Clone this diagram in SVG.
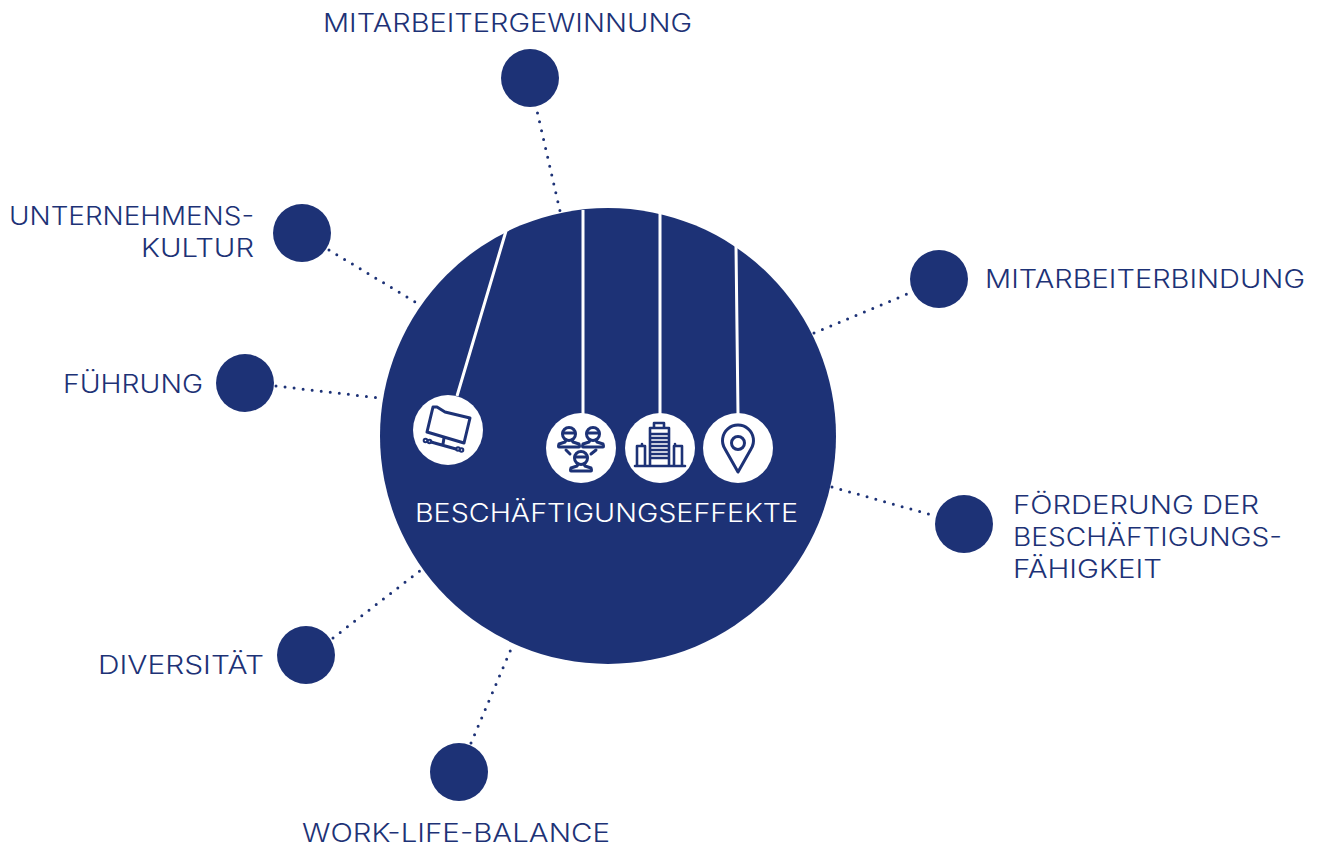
<svg xmlns="http://www.w3.org/2000/svg" width="1317" height="843" viewBox="0 0 1317 843">
<style>
.n{fill:#1d3276}
.t{font-family:"Inter","Liberation Sans",sans-serif;font-size:25px;font-weight:300;fill:#1d3276}
.w{fill:#fff}
.d{stroke:#1d3276;stroke-width:3;stroke-linecap:round;stroke-dasharray:0 9.1;fill:none}
.l{stroke:#fff;stroke-width:3;fill:none}
.i{stroke:#1d3276;stroke-width:3;fill:none;stroke-linejoin:round;stroke-linecap:round}
.s{stroke:#1d3276;stroke-width:2;fill:none}
</style>
<rect width="1317" height="843" fill="#fff"/>
<g id="connectors">
<path class="d" d="M537.500 113L560 211"/>
<path class="d" d="M329 250L417 303"/>
<path class="d" d="M276 386L380 398"/>
<path class="d" d="M333 638L421 570"/>
<path class="d" d="M471 743L511 649"/>
<path class="d" d="M814 333L912 292"/>
<path class="d" d="M832 487L932 515"/>
</g>
<g id="hub">
<circle class="n" cx="608" cy="436" r="228"/>
<path class="l" d="M506 231L457 396M583 210V414M660 213V414M736 246L738 414"/>
<text class="t" style="fill:#fff" x="415" y="522" textLength="383" lengthAdjust="spacingAndGlyphs">BESCHÄFTIGUNGSEFFEKTE</text>
</g>
<g id="icon-folder">
<circle class="w" cx="448" cy="430" r="35"/>
<path class="i" d="M433 407L427 432L464 443L470 418L445 412L437 407Z"/>
<path class="i" d="M444 438L443 444M431 442L456 449"/>
<circle class="s" cx="425.500" cy="440.500" r="1.800"/><circle class="s" cx="429.500" cy="441.500" r="1.800"/><circle class="s" cx="458" cy="449" r="1.800"/><circle class="s" cx="461.500" cy="450" r="1.800"/>
</g>
<g id="icon-people">
<circle class="w" cx="581" cy="448" r="35"/>
<g class="i">
<circle cx="569" cy="434" r="6.500"/><path d="M563 433h12M566 440L565 442L559 444Q558 447 559 447H579Q580 447 579 444L573 442L572 440"/>
<circle cx="593" cy="434" r="6.500"/><path d="M587 433h12M590 440L589 442L583 444Q582 447 583 447H603Q604 447 603 444L597 442L596 440"/>
<circle cx="581" cy="458" r="6.500"/><path d="M575 457h12M578 464L577 466L571 468Q570 471 571 471H591Q592 471 591 468L585 466L584 464"/>
<path d="M566 450L570 454M596 450L591 454"/>
</g>
</g>
<g id="icon-building">
<circle class="w" cx="660" cy="448" r="35"/>
<g class="i">
<path d="M635 466H685M650 465V428H669V465M654 428V423H664V428M650 434H669M650 438H669M650 442H669M650 446H669M650 450H669M650 454H669M650 458H669" style="stroke-width:2.600"/>
<path d="M637 465V446H645V465M642 446V444M674 465V446H682V465M675 446V444" style="stroke-width:2.600"/>
</g>
</g>
<g id="icon-pin">
<circle class="w" cx="738" cy="448" r="35"/>
<path class="i" d="M738 472L725 449A15.500 15.500 0 1 1 751 449Z"/>
<circle class="i" cx="738" cy="443" r="6.500"/>
</g>
<g id="node-mitarbeitergewinnung"><circle class="n" cx="530" cy="78" r="29"/><text class="t" x="323" y="32" textLength="369" lengthAdjust="spacingAndGlyphs">MITARBEITERGEWINNUNG</text></g>
<g id="node-unternehmenskultur"><circle class="n" cx="302" cy="233" r="29"/><text class="t" x="9" y="225" textLength="245" lengthAdjust="spacingAndGlyphs">UNTERNEHMENS-</text><text class="t" x="141" y="257" textLength="113" lengthAdjust="spacingAndGlyphs">KULTUR</text></g>
<g id="node-fuehrung"><circle class="n" cx="245" cy="383" r="29"/><text class="t" x="63" y="393" textLength="140" lengthAdjust="spacingAndGlyphs">FÜHRUNG</text></g>
<g id="node-diversitaet"><circle class="n" cx="306" cy="655" r="29"/><text class="t" x="98" y="674" textLength="166" lengthAdjust="spacingAndGlyphs">DIVERSITÄT</text></g>
<g id="node-worklife"><circle class="n" cx="459" cy="772" r="29"/><text class="t" x="302" y="842" textLength="308" lengthAdjust="spacingAndGlyphs">WORK-LIFE-BALANCE</text></g>
<g id="node-mitarbeiterbindung"><circle class="n" cx="939" cy="279" r="29"/><text class="t" x="985" y="288" textLength="320" lengthAdjust="spacingAndGlyphs">MITARBEITERBINDUNG</text></g>
<g id="node-foerderung"><circle class="n" cx="964" cy="524" r="29"/><text class="t" x="1013" y="514" textLength="246" lengthAdjust="spacingAndGlyphs">FÖRDERUNG DER</text><text class="t" x="1013" y="546" textLength="269" lengthAdjust="spacingAndGlyphs">BESCHÄFTIGUNGS-</text><text class="t" x="1013" y="578" textLength="149" lengthAdjust="spacingAndGlyphs">FÄHIGKEIT</text></g>
</svg>
